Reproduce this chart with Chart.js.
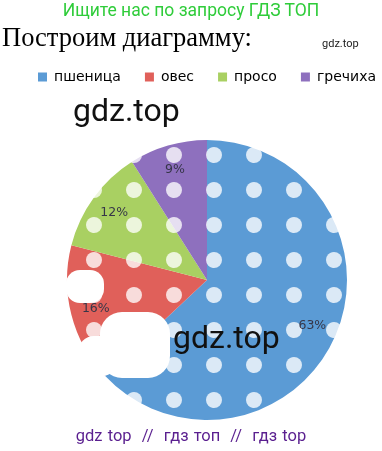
<!DOCTYPE html>
<html>
<head>
<meta charset="utf-8">
<script src="https://cdn.jsdelivr.net/npm/chart.js@4.4.1/dist/chart.umd.min.js"></script>
<style>
  html, body { margin: 0; padding: 0; background: #ffffff; }
  body { width: 382px; height: 451px; position: relative; overflow: hidden; }
  #c { position: absolute; left: 12px; top: 0; }
  .t { position: absolute; white-space: nowrap; z-index: 3; }
  .blob { position: absolute; background: #fff; z-index: 2; }
  #hdr { left: 0; width: 382px; top: 0px; text-align: center; font: 17.5px Roboto, sans-serif; color: #2fcc3a; }
  #ttl { left: 2px; top: 22px; font: 26.5px "Liberation Serif", serif; color: #000; }
  #small { left: 322px; top: 37px; font: 11px Roboto, sans-serif; color: #222; }
  #wm1 { left: 73px; top: 91px; font: 32px Roboto, sans-serif; color: #111; }
  #wm2 { left: 173px; top: 318px; font: 32px Roboto, sans-serif; color: #111; }
  #ftr { left: 0; width: 382px; top: 426px; text-align: center; font: 16.5px Roboto, sans-serif; color: #5a1f8f; word-spacing: 1px; }
</style>
</head>
<body>
<canvas id="c" width="390" height="451"></canvas>
<div class="blob" style="left:66px;top:270px;width:38px;height:33px;border-radius:14px;"></div>
<div class="blob" style="left:100px;top:312px;width:70px;height:66px;border-radius:22px;"></div>
<div class="blob" style="left:78px;top:336px;width:40px;height:40px;border-radius:16px;"></div>
<div class="t" id="hdr">Ищите нас по запросу ГДЗ ТОП</div>
<div class="t" id="ttl">Построим диаграмму:</div>
<div class="t" id="small">gdz.top</div>
<div class="t" id="wm1">gdz.top</div>
<div class="t" id="wm2">gdz.top</div>
<div class="t" id="ftr">gdz top &nbsp;// &nbsp;гдз топ &nbsp;// &nbsp;гдз top</div>
<script>
// ---- data ----
const categories = ['пшеница', 'овес', 'просо', 'гречиха'];
const shares = [63, 16, 12, 9];
const sliceColors = ['#5b9bd5', '#e0605a', '#a9d062', '#8e70be'];

// dotted watermark fill (white dots over slice colours)
function dotted(color) {
  const p = document.createElement('canvas');
  p.width = 40; p.height = 35;
  const g = p.getContext('2d');
  g.fillStyle = color; g.fillRect(0, 0, 40, 35);
  g.fillStyle = 'rgba(255,255,255,0.78)';
  [2, 42].forEach(cx => { g.beginPath(); g.arc(cx, 15, 8, 0, Math.PI * 2); g.fill(); });
  return g.createPattern(p, 'repeat');
}

const legendShift = {
  id: 'legendShift',
  afterInit(chart) {
    const lg = chart.legend;
    const fit = lg.fit;
    lg.fit = function () { fit.call(lg); this.height += 46; };
  }
};

const sliceLabels = {
  id: 'sliceLabels',
  afterDatasetsDraw(chart) {
    const ctx = chart.ctx;
    const meta = chart.getDatasetMeta(0);
    ctx.save();
    ctx.font = '12.5px "DejaVu Sans", sans-serif';
    ctx.fillStyle = '#363648';
    ctx.textAlign = 'center';
    ctx.textBaseline = 'middle';
    meta.data.forEach((arc, i) => {
      const p = arc.getProps(['x', 'y', 'startAngle', 'endAngle', 'outerRadius'], true);
      const a = (p.startAngle + p.endAngle) / 2;
      const r = p.outerRadius * 0.82;
      ctx.fillText(shares[i] + '%', p.x + Math.cos(a) * r, p.y + Math.sin(a) * r);
    });
    ctx.restore();
  }
};

new Chart(document.getElementById('c'), {
  type: 'pie',
  data: {
    labels: categories,
    datasets: [{
      data: shares,
      backgroundColor: sliceColors.map(dotted),
      borderWidth: 0
    }]
  },
  options: {
    responsive: false,
    animation: false,
    layout: { padding: { top: 46, left: 0, right: 0, bottom: 31 } },
    plugins: {
      tooltip: { enabled: false },
      legend: {
        position: 'top',
        labels: {
          boxWidth: 9,
          boxHeight: 9,
          padding: 24,
          color: '#595959',
          font: { family: '"DejaVu Sans", sans-serif', size: 14 },
          generateLabels: (chart) => categories.map((c, i) => ({
            text: c, fillStyle: sliceColors[i], strokeStyle: sliceColors[i],
            lineWidth: 0, hidden: false, index: i
          }))
        }
      }
    }
  },
  plugins: [legendShift, sliceLabels]
});
</script>
</body>
</html>
